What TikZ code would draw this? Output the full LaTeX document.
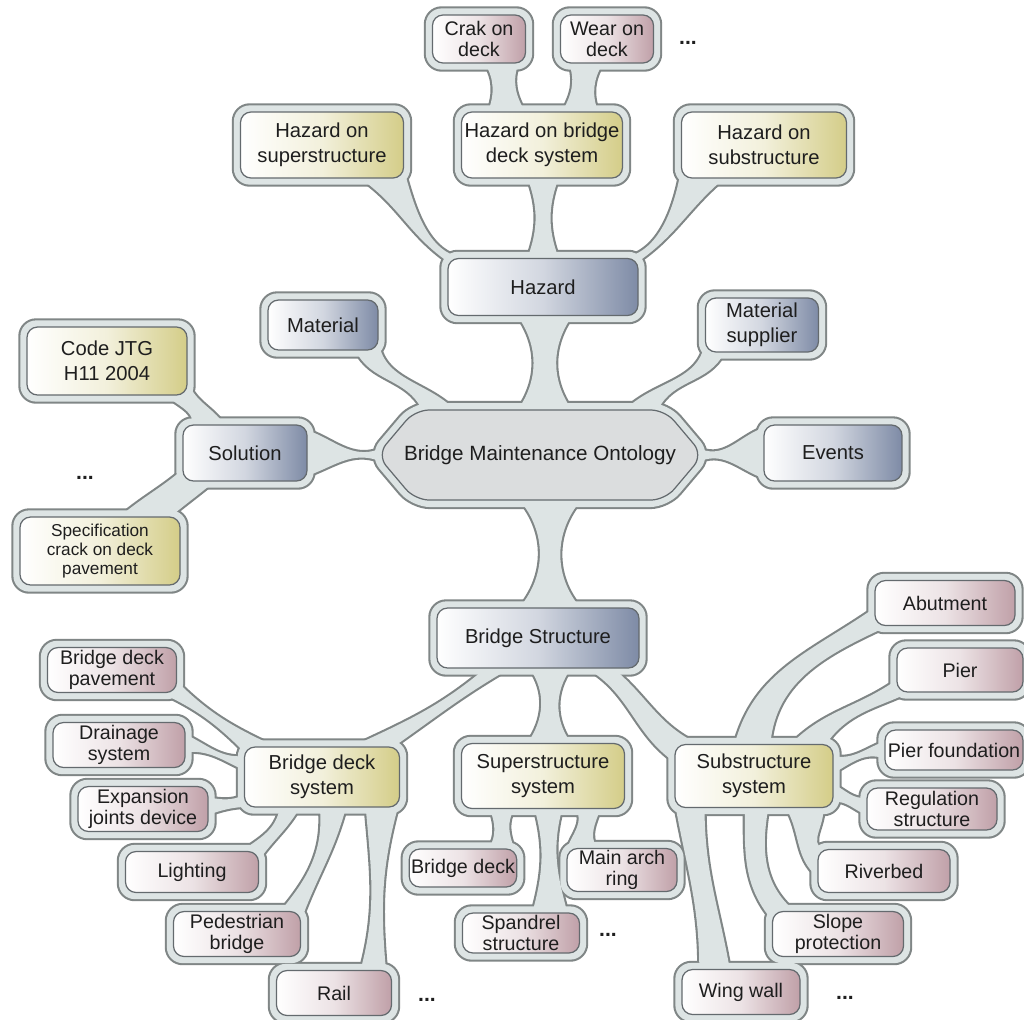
\documentclass[tikz,border=0pt]{standalone}
\usepackage{fontspec}
\setmainfont{Liberation Sans}
\pgfdeclarelayer{bg}\pgfdeclarelayer{rim}\pgfdeclarelayer{core}
\pgfsetlayers{bg,rim,core,main}
\definecolor{rimc}{RGB}{128,134,134}
\definecolor{haloc}{RGB}{221,228,228}
\definecolor{linec}{RGB}{100,106,110}
\definecolor{catc}{RGB}{126,139,166}
\definecolor{subc}{RGB}{212,205,136}
\definecolor{leafc}{RGB}{192,160,168}
\definecolor{bmoc}{RGB}{219,221,222}
\definecolor{textc}{RGB}{30,30,30}
\tikzset{
  box/.style={draw=linec,line width=0.7pt,rounded corners=6pt,align=center,inner sep=1pt,text=textc,font=\fontsize{11.5}{14}\selectfont},
  wd/.style={minimum width=#1*0.02cm},
  ht/.style={minimum height=#1*0.02cm},
  cat/.style={box,left color=white,right color=catc,middle color=catc!35!white},
  sub/.style={box,left color=white,right color=subc,middle color=subc!30!white},
  leaf/.style={box,left color=white,right color=leafc,middle color=leafc!30!white,font=\fontsize{11.2}{12}\selectfont},
  dots/.style={text=textc,font=\bfseries\fontsize{12}{12}\selectfont}}
\def\halos{crak,wear,hazsup,hazdeck,hazsub,hazard,material,matsup,code,solution,events,spec,bs,supsys,subsys,bds,abut,pier,pierf,reg,riverbed,slope,wing,bdeck,mar,spandrel,bdp,drain,expan,light,ped,rail}
\def\bands{bmo/116/55/hazard/-131/-45/90/-90/35,hazard/165/157/hazsup/-41/-17/165/-55/20,hazard/118/62/hazdeck/-113/-64/90/-90/20,
hazard/23/15/hazsub/-163/-140/15/-120/20,hazdeck/148/117/crak/-76/-32/95/-85/25,hazdeck/59/31/wear/-147/-100/85/-95/25,
bmo/159/152/material/-38/-15/125/-75/10,bmo/28/21/matsup/-165/-144/55/-105/10,bmo/-178/178/solution/-20/20/180/0/20,
bmo/2/-2/events/160/-160/0/180/20,solution/151/126/code/-30/-13/110/-60/15,solution/-137/-165/spec/26/60/-140/40/0,
bmo/-48/-114/bs/36/121/-90/90/40,bs/-43/-105/supsys/50/115/-90/90/35,bs/-133/-150/bds/23/45/-145/30/5,
bs/-22/-32/subsys/150/170/-35/150/5,subsys/121/63/abut/-176/-158/80/-150/5,subsys/41/24/pier/-171/-156/50/-150/5,
subsys/14/2/pierf/173/-173/10/180/20,subsys/-6/-18/reg/170/-175/-10/175/15,subsys/-25/-45/riverbed/160/-175/-70/150/10,
subsys/-66/-106/slope/152/168/-95/135/5,subsys/-147/-163/wing/116/151/-85/95/5,supsys/-131/-148/bdeck/21/37/-95/85/25,
supsys/-30/-45/mar/139/158/-85/95/25,supsys/-60/-104/spandrel/24/61/-90/90/15,bds/162/147/bdp/-25/-10/145/-35/10,
bds/175/165/drain/-6/9/170/-10/15,bds/-152/-167/expan/-5/10/-170/5/15,bds/-126/-144/light/10/23/-110/45/10,
bds/-52/-94/ped/12/28/-95/60/10,bds/-22/-35/rail/24/41/-95/85/10}

\begin{document}
\begin{tikzpicture}[x=0.02cm,y=0.02cm]
\useasboundingbox (0,0) rectangle (1024,-1019);
\node[leaf,wd=93,ht=48] (crak) at (479,-39) {Crak on\\deck};
\node[leaf,wd=93,ht=48] (wear) at (607,-39) {Wear on\\deck};
\node[dots] (dA) at (688,-43) {...};
\node[sub,wd=163,ht=66] (hazsup) at (322,-145) {Hazard on\\superstructure};
\node[sub,wd=161,ht=66] (hazdeck) at (542,-145) {Hazard on bridge\\deck system};
\node[sub,wd=165,ht=66] (hazsub) at (764,-145) {Hazard on\\substructure};
\node[cat,wd=190,ht=57] (hazard) at (543,-287) {Hazard};
\node[cat,wd=110,ht=50] (material) at (323,-325) {Material};
\node[cat,wd=113,ht=54] (matsup) at (762,-325) {Material\\supplier};
\node[sub,wd=160,ht=68] (code) at (107,-361) {Code JTG\\H11 2004};
\node[cat,wd=124,ht=56] (solution) at (245,-453) {Solution};
\node[text=textc,font=\fontsize{11.75}{14}\selectfont,wd=322,ht=90] (bmo) at (540,-455) {Bridge Maintenance Ontology};
\node[cat,wd=138,ht=56] (events) at (833,-453) {Events};
\node[dots] (dB) at (85,-478) {...};
\node[sub,wd=160,ht=68,font=\fontsize{9.8}{11}\selectfont] (spec) at (100,-551) {Specification\\crack on deck\\pavement};
\node[cat,wd=202,ht=60] (bs) at (538,-638) {Bridge Structure};
\node[sub,wd=163,ht=65] (supsys) at (543,-776) {Superstructure\\system};
\node[sub,wd=158,ht=63] (subsys) at (754,-776) {Substructure\\system};
\node[sub,wd=155,ht=60] (bds) at (322,-777) {Bridge deck\\system};
\node[leaf,wd=140,ht=45] (abut) at (945,-603) {Abutment};
\node[leaf,wd=126,ht=44] (pier) at (960,-670) {Pier};
\node[leaf,wd=138,ht=40] (pierf) at (954,-750) {Pier foundation};
\node[leaf,wd=130,ht=42] (reg) at (932,-809) {Regulation\\structure};
\node[leaf,wd=132,ht=43] (riverbed) at (884,-871) {Riverbed};
\node[leaf,wd=131,ht=45] (slope) at (838,-934) {Slope\\protection};
\node[leaf,wd=118,ht=45] (wing) at (741,-992) {Wing wall};
\node[dots] (dE) at (845,-998) {...};
\node[leaf,wd=107,ht=38] (bdeck) at (463,-868) {Bridge deck};
\node[leaf,wd=110,ht=38] (mar) at (622,-870) {Main arch\\ring};
\node[leaf,wd=117,ht=40] (spandrel) at (521,-933) {Spandrel\\structure};
\node[dots] (dC) at (608,-935) {...};
\node[leaf,wd=129,ht=45] (bdp) at (112,-670) {Bridge deck\\pavement};
\node[leaf,wd=132,ht=45] (drain) at (119,-745) {Drainage\\system};
\node[leaf,wd=130,ht=45] (expan) at (143,-809) {Expansion\\joints device};
\node[leaf,wd=133,ht=41] (light) at (192,-872) {Lighting};
\node[leaf,wd=127,ht=45] (ped) at (237,-934) {Pedestrian\\bridge};
\node[leaf,wd=115,ht=45] (rail) at (334,-993) {Rail};
\node[dots] (dD) at (427,-1000) {...};
\begin{pgfonlayer}{bg}\fill[white] (0,0) rectangle (1024,-1019);\end{pgfonlayer}
\begin{pgfonlayer}{rim}
\foreach \n in \halos \filldraw[rimc,line width=2.4pt,rounded corners=9pt] ([shift={(-6,-6)}]\n.south west) rectangle ([shift={(6,6)}]\n.north east);
\filldraw[rimc,line width=2.4pt,rounded corners=10pt] ([shift={(-172,0)}]bmo.center) -- ([shift={(-128,52)}]bmo.center) -- ([shift={(128,52)}]bmo.center)
  -- ([shift={(172,0)}]bmo.center) -- ([shift={(128,-52)}]bmo.center) -- ([shift={(-128,-52)}]bmo.center) -- cycle;
\foreach \p/\pa/\pb/\c/\ca/\cb/\o/\i/\d in \bands {
  \pgfmathsetmacro\oA{\o-\d}\pgfmathsetmacro\iA{\i+\d}\pgfmathsetmacro\oB{\o+\d}\pgfmathsetmacro\iB{\i-\d}
  \filldraw[rimc,line width=2.4pt,line join=round] (\p.\pa) to[out=\oA,in=\iA] (\c.\ca) -- (\c.\cb) to[out=\iB,in=\oB] (\p.\pb) -- cycle;}
\end{pgfonlayer}
\begin{pgfonlayer}{core}
\foreach \n in \halos \fill[haloc,rounded corners=9pt] ([shift={(-6,-6)}]\n.south west) rectangle ([shift={(6,6)}]\n.north east);
\fill[haloc,rounded corners=10pt] ([shift={(-172,0)}]bmo.center) -- ([shift={(-128,52)}]bmo.center) -- ([shift={(128,52)}]bmo.center)
  -- ([shift={(172,0)}]bmo.center) -- ([shift={(128,-52)}]bmo.center) -- ([shift={(-128,-52)}]bmo.center) -- cycle;
\foreach \p/\pa/\pb/\c/\ca/\cb/\o/\i/\d in \bands {
  \pgfmathsetmacro\oA{\o-\d}\pgfmathsetmacro\iA{\i+\d}\pgfmathsetmacro\oB{\o+\d}\pgfmathsetmacro\iB{\i-\d}
  \fill[haloc] (\p.\pa) to[out=\oA,in=\iA] (\c.\ca) -- (\c.\cb) to[out=\iB,in=\oB] (\p.\pb) -- cycle;}
\filldraw[fill=bmoc,draw=linec,line width=0.7pt,rounded corners=8pt] ([shift={(-163,0)}]bmo.center) -- ([shift={(-125,45)}]bmo.center) -- ([shift={(125,45)}]bmo.center)
  -- ([shift={(163,0)}]bmo.center) -- ([shift={(125,-45)}]bmo.center) -- ([shift={(-125,-45)}]bmo.center) -- cycle;
\end{pgfonlayer}
\end{tikzpicture}
\end{document}
